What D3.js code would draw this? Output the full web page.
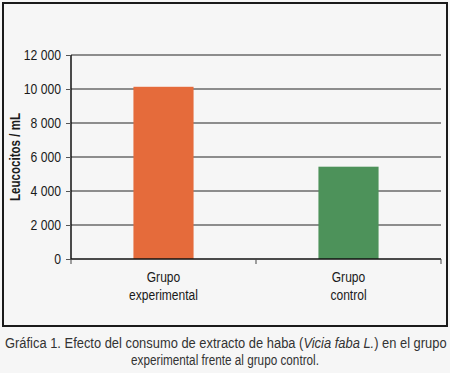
<!DOCTYPE html>
<html><head><meta charset="utf-8">
<script src="https://cdn.jsdelivr.net/npm/d3@7/dist/d3.min.js"></script>
<style>
html,body{margin:0;padding:0;background:#f6f6f6;}
svg{display:block;}
</style></head>
<body>
<script>
const categories = [["Grupo","experimental"],["Grupo","control"]];
const values = [10130, 5430];
const colors = ["#E56B3B","#4D925A"];
const yTicks = [0,2000,4000,6000,8000,10000,12000];
const yLabel = "Leucocitos / mL";
const captionLine1 = ["Gráfica 1. Efecto del consumo de extracto de haba (", "Vicia faba L.", ") en el grupo"];
const captionLine2 = "experimental frente al grupo control.";

const W=450,H=373;
const font = "'Liberation Sans',Arial,sans-serif";
const svg = d3.select("body").append("svg").attr("width",W).attr("height",H);
svg.append("rect").attr("width",W).attr("height",H).attr("fill","#f6f6f6");
svg.append("rect").attr("x",3).attr("y",3).attr("width",444).attr("height",323)
  .attr("fill","#f6f6f6").attr("stroke","#1a1a1a").attr("stroke-width",2);

const x = d3.scaleBand().domain(d3.range(categories.length)).range([71,441]).paddingInner(0.675).paddingOuter(0.3375);
const y = d3.scaleLinear().domain([0,12000]).range([259,55]);

function condense(sel, f){
  sel.each(function(){
    const len = this.getComputedTextLength();
    d3.select(this).attr("textLength", len*f).attr("lengthAdjust","spacingAndGlyphs");
  });
}

// gridlines
svg.append("g").selectAll("line").data(yTicks.filter(d=>d>0)).join("line")
  .attr("x1",71).attr("x2",441).attr("y1",d=>y(d)).attr("y2",d=>y(d))
  .attr("stroke","#6a6a6a").attr("stroke-width",1.3);

// bars
svg.append("g").selectAll("rect").data(values).join("rect")
  .attr("x",(d,i)=>x(i)).attr("width",x.bandwidth())
  .attr("y",d=>y(d)).attr("height",d=>y(0)-y(d))
  .attr("fill",(d,i)=>colors[i]);

// y axis
const fmt = d=> d3.format(",")(d).replace(/,/g," ");
const ya = svg.append("g").attr("transform","translate(71,0)")
  .call(d3.axisLeft(y).tickValues(yTicks).tickFormat(fmt).tickSize(5).tickPadding(5));
ya.select(".domain").attr("stroke","#111").attr("stroke-width",1.5).attr("d","M0,55V259");
ya.selectAll(".tick line").attr("stroke","#555");
ya.selectAll("text").attr("font-family",font).attr("font-size",14).attr("fill","#1a1a1a");
condense(ya.selectAll("text"), 0.87);

// x axis
const xa = svg.append("g").attr("transform","translate(0,259)");
xa.append("line").attr("x1",71).attr("x2",441).attr("stroke","#111").attr("stroke-width",1.5);
const bounds = [71, 71+x.step(), 441];
xa.selectAll(".xt").data(bounds).join("line").attr("class","xt")
  .attr("x1",d=>d).attr("x2",d=>d).attr("y1",0).attr("y2",5).attr("stroke","#444");
categories.forEach((c,i)=>{
  const cx = x(i)+x.bandwidth()/2;
  c.forEach((t,j)=>{
    const tx = xa.append("text").attr("x",cx).attr("y",23+j*17.5).attr("text-anchor","middle")
      .attr("font-family",font).attr("font-size",14).attr("fill","#1a1a1a").text(t);
    condense(tx, 0.86);
  });
});

// y label
const yl = svg.append("text").attr("transform","translate(20,157) rotate(-90)").attr("text-anchor","middle")
  .attr("font-family",font).attr("font-weight","bold").attr("font-size",14.5).attr("fill","#1a1a1a").text(yLabel);
yl.attr("textLength",88).attr("lengthAdjust","spacingAndGlyphs");

// caption line 1 (condensed via horizontal scale)
const capG = svg.append("g");
const cap = capG.append("text").attr("x",0).attr("y",0)
  .attr("font-family",font).attr("font-size",14.5).attr("fill","#333");
captionLine1.forEach((t,i)=>{ cap.append("tspan").attr("font-style",i===1?"italic":"normal").text(t); });
const capLen = cap.node().getComputedTextLength();
const f1 = 442/capLen;
capG.attr("transform",`translate(5,348) scale(${f1},1)`);

const cap2G = svg.append("g");
const cap2 = cap2G.append("text").attr("x",0).attr("y",0).attr("text-anchor","middle")
  .attr("font-family",font).attr("font-size",14.5).attr("fill","#333").text(captionLine2);
const f2 = 188/cap2.node().getComputedTextLength();
cap2G.attr("transform",`translate(225,365) scale(${f2},1)`);
</script>
</body></html>
